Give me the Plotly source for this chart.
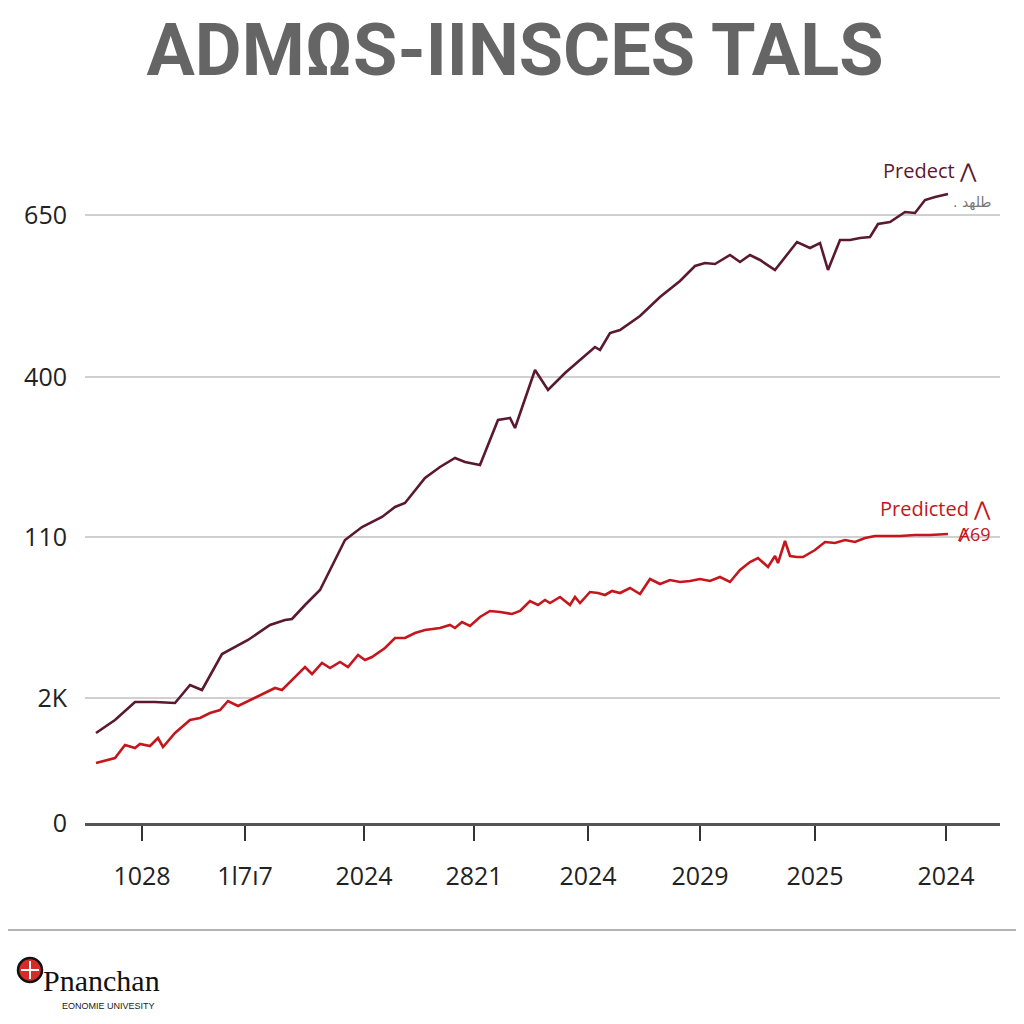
import plotly.graph_objects as go

# ---- data (x: position along time axis, y: value on the chart's scale) ----
dark_x = [11, 30, 50, 70, 90, 105, 117, 137, 163, 185, 200, 207, 220, 235, 260, 277, 297, 310, 320, 340,
          355, 370, 380, 395, 413, 425, 430, 450, 463, 480, 495, 510, 515, 525, 535, 555, 575, 595, 610,
          620, 630, 645, 655, 665, 675, 690, 712, 725, 735, 743, 755, 765, 775, 785, 793, 805, 820, 830,
          840, 850, 863]
dark_y = [90, 103, 121, 121, 120, 138, 133, 169, 183, 198, 203, 204, 218, 233, 283, 296, 306, 316, 320, 345,
          356, 365, 361, 358, 403, 405, 395, 453, 433, 450, 463, 476, 473, 490, 493, 507, 526, 542, 557,
          560, 559, 568, 561, 568, 563, 553, 581, 575, 580, 553, 583, 583, 585, 586, 599, 601, 611, 610,
          623, 626, 629]

red_x = [11, 30, 40, 50, 55, 65, 73, 78, 90, 105, 115, 125, 135, 143, 153, 165, 180, 190, 197, 205, 213,
         220, 227, 237, 245, 255, 263, 273, 280, 287, 300, 310, 320, 330, 340, 355, 365, 370, 377, 385,
         395, 405, 415, 427, 435, 445, 453, 460, 465, 475, 485, 490, 495, 505, 513, 520, 527, 535, 545,
         555, 565, 575, 585, 595, 605, 615, 625, 635, 645, 655, 665, 673, 683, 690, 693, 700, 705, 712,
         718, 730, 740, 750, 760, 770, 780, 790, 800, 815, 830, 845, 863]
red_y = [60, 65, 78, 75, 79, 77, 85, 76, 90, 103, 105, 110, 113, 122, 117, 123, 130, 135, 133, 141, 148,
         156, 149, 160, 155, 161, 156, 168, 163, 166, 175, 185, 185, 190, 193, 195, 198, 195, 201, 197,
         206, 212, 211, 209, 212, 222, 218, 223, 220, 226, 218, 226, 220, 231, 230, 228, 232, 230, 235,
         229, 244, 239, 243, 241, 242, 244, 242, 246, 241, 253, 261, 265, 256, 267, 260, 282, 267, 266,
         266, 273, 281, 280, 283, 281, 285, 287, 287, 287, 288, 288, 289]

x_tickvals = [57, 160, 279, 389, 503, 615, 730, 861]
x_ticktext = ["1028", "1l7\u01317", "2024", "2821", "2024", "2029", "2025", "2024"]
y_tickvals = [0, 125, 286, 446, 608]
y_ticktext = ["0", "2K", "110", "400", "650"]

DARK = "#5b1930"
RED = "#c5161d"

OFF = 8  # page body margin
# plot-area geometry in page pixels
PL, PR, PT, PB = 85, 1000, 163, 823
L, R, T, B = PL - OFF, PR - OFF, PT - OFF, PB - OFF


def px(x):
    return (x - PL) / (PR - PL)


def py(y):
    return (PB - y) / (PB - PT)


fig = go.Figure()
fig.add_trace(go.Scatter(x=dark_x, y=dark_y, mode="lines",
                         line=dict(color=DARK, width=2.6), showlegend=False, hoverinfo="skip"))
fig.add_trace(go.Scatter(x=red_x, y=red_y, mode="lines",
                         line=dict(color=RED, width=2.6), showlegend=False, hoverinfo="skip"))

fig.update_layout(
    width=1024, height=1024,
    margin=dict(l=L, r=1024 - R, t=T, b=1024 - B, pad=0),
    paper_bgcolor="white", plot_bgcolor="white",
    title=dict(text="<b>ADM\u03a9S-IINSCES TALS</b>", x=(515 - OFF) / 1024, xref="container",
               xanchor="center", y=1 - (50 - OFF) / 1024, yref="container", yanchor="middle",
               font=dict(family="Roboto, sans-serif", size=72, color="#656565")),
    xaxis=dict(range=[0, PR - PL], tickvals=x_tickvals, ticktext=x_ticktext,
               showgrid=False, zeroline=False, showline=True, linecolor="#555555", linewidth=2.5,
               ticks="outside", ticklen=15, tickwidth=1.5, tickcolor="#333333",
               ticklabelstandoff=14,
               tickfont=dict(family="Open Sans, sans-serif", size=25, color="#222222")),
    yaxis=dict(range=[0, PB - PT], tickvals=y_tickvals, ticktext=y_ticktext,
               showgrid=True, gridcolor="#d0d0d0", gridwidth=1.5, zeroline=False,
               showline=False, ticks="", ticklabelstandoff=17,
               tickfont=dict(family="Open Sans, sans-serif", size=25, color="#222222")),
)

annotations = [
    dict(x=px(930), y=py(170), text="Predect \u22c0", font=dict(size=20, color=DARK,
         family="Open Sans, sans-serif")),
    dict(x=px(972), y=py(202), text=". \u0637\u0644\u0647\u062f", font=dict(size=14, color="#777777",
         family="DejaVu Sans, sans-serif")),
    dict(x=px(935), y=py(509), text="Predicted \u22c0", font=dict(size=20, color=RED,
         family="Open Sans, sans-serif")),
    dict(x=px(974), y=py(534), text="\u023a69", font=dict(size=18, color=RED,
         family="Open Sans, sans-serif")),
    dict(x=px(41), y=py(980), text="Pnanchan", xanchor="left",
         font=dict(size=30, color="#111111", family="Liberation Serif, serif")),
    dict(x=px(60), y=py(1006), text="EONOMIE UNIVESITY", xanchor="left",
         font=dict(size=9, color="#222222", family="Liberation Sans, sans-serif")),
]
for a in annotations:
    a.setdefault("xanchor", "center")
    a.update(xref="paper", yref="paper", yanchor="middle", showarrow=False)
fig.update_layout(annotations=annotations)

shapes = [
    # footer rule
    dict(type="line", xref="paper", yref="paper", x0=px(0), x1=px(1024), y0=py(930), y1=py(930),
         line=dict(color="#9a9a9a", width=1.5)),
    # logo
    dict(type="circle", xref="paper", yref="paper", x0=px(18), x1=px(42), y0=py(958), y1=py(982),
         fillcolor="#d52b2b", line=dict(color="#111111", width=2.5)),
    dict(type="line", xref="paper", yref="paper", x0=px(30), x1=px(30), y0=py(961), y1=py(979),
         line=dict(color="white", width=2)),
    dict(type="line", xref="paper", yref="paper", x0=px(21), x1=px(39), y0=py(970), y1=py(970),
         line=dict(color="white", width=2)),
]
fig.update_layout(shapes=shapes)

fig.write_html("out.html")
